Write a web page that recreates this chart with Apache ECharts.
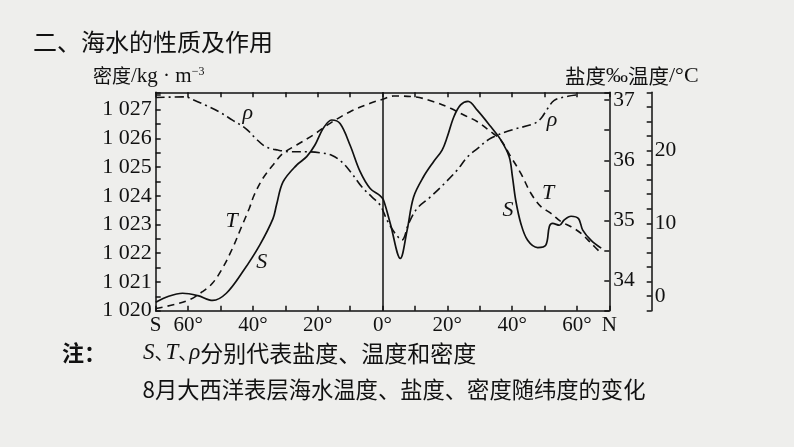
<!DOCTYPE html>
<html><head><meta charset="utf-8">
<script src="https://cdn.jsdelivr.net/npm/echarts@6/dist/echarts.min.js"></script>
<style>html,body{margin:0;padding:0;background:#eeeeec;}#c{width:794px;height:447px;}</style>
</head><body><div id="c"></div>
<script>
// Salinity S (‰)
const sLat = [-70,-66,-61.7,-57,-52.4,-48.2,-43.1,-37.9,-33.8,-32.7,-30.7,-26.5,-23.4,-20.9,-18.3,-15.7,-13.1,-10,-6.9,-3.8,-0.7,0.3,2.4,5.5,7.6,9.6,12.7,15.8,18.4,20,22,24.1,26.4,29.3,33.4,36.5,39.1,40.1,41.1,42.7,44.8,47.9,50.4,51.5,52.5,54.6,56.1,58.2,60.5,61.8,64.4,67.5];
const sVal = [33.64,33.74,33.79,33.75,33.67,33.79,34.15,34.59,35.03,35.26,35.64,35.92,36.06,36.25,36.53,36.67,36.61,36.25,35.81,35.53,35.41,35.34,34.95,34.37,34.84,35.39,35.73,35.98,36.17,36.39,36.72,36.92,36.98,36.83,36.56,36.34,36.06,35.73,35.34,34.95,34.67,34.55,34.59,34.9,34.95,34.92,35.01,35.07,35.03,34.84,34.67,34.54];
// Temperature T (°C)
const tLat = [-70,-64.9,-59.7,-55.6,-52.5,-49.4,-46.3,-43.7,-41.1,-39.6,-36.9,-33.8,-30.7,-26.5,-21.4,-16.2,-10,-3.8,0.3,3.4,9.6,15.8,21,25.1,29.3,33.4,36.5,39.6,42.7,45.8,48.9,52,55.1,58.2,61.3,64.4,67.5];
const tVal = [-1.7,-1.22,-0.53,0.61,1.76,3.82,6.57,9.32,12.07,13.89,16.19,18.01,19.62,20.76,22.13,23.74,25.34,26.49,27.08,27.49,27.4,26.71,25.8,24.88,23.96,22.59,21.45,19.15,16.87,14.13,12.29,11.38,10.23,9.54,8.63,7.26,5.88];
// Density rho (kg/m3)
const rLat = [-70,-60.8,-58.7,-54.6,-50.4,-46.3,-42.2,-39.1,-36,-32.3,-28.1,-23,-18.8,-15.7,-12.6,-9.5,-6.4,-3.3,-0.7,1.4,3.9,6,8.1,10.7,14.8,18.9,23.1,26.2,29.3,33.4,39.6,46.8,48.9,51,53,57.2,60.3];
const rVal = [1027.42,1027.44,1027.35,1027.15,1026.92,1026.63,1026.34,1025.99,1025.70,1025.59,1025.53,1025.53,1025.49,1025.41,1025.18,1024.78,1024.31,1023.96,1023.67,1023.15,1022.69,1022.46,1023.04,1023.56,1023.96,1024.4,1024.9,1025.35,1025.64,1026.0,1026.28,1026.51,1026.69,1027.04,1027.32,1027.46,1027.51];

// Tick labels
const xLabelValues = [-70,-60,-40,-20,0,20,40,60,70];
const xLabelTexts = ['S','60°','40°','20°','0°','20°','40°','60°','N'];
const densityLabels = [1020,1021,1022,1023,1024,1025,1026,1027];
const salinityLabels = [34,35,36,37];
const tempLabels = [0,10,20];

// Curve annotations [lat, value]
const annoRho = [[-41.6,1026.87],[52.3,1026.63]];
const annoT = [[-46.6,10.3],[51.1,14.2]];
const annoS = [[-37.3,34.31],[38.7,35.17]];

const serif = '"Liberation Serif","Times New Roman",serif';
const cjk = '"Noto Sans CJK SC","Noto Sans",sans-serif';
const ink = '#111';
const zip = (a,b) => a.map((x,i)=>[x,b[i]]);
const near = (v,list) => list.find(l => Math.abs(l - v) < 1e-6);
const axLine = {show:true, onZero:false, lineStyle:{color:ink, width:1.5}};
const tick = {show:true, inside:true, length:5, lineStyle:{color:ink, width:1.5}};
const lab = (fs) => ({color:ink, fontFamily:serif, fontSize:fs});

function anno(list, txt){
  return {symbol:'circle', symbolSize:1, silent:true, itemStyle:{color:'rgba(0,0,0,0)'},
    label:{show:true, position:'inside', formatter:txt, color:ink, fontFamily:serif, fontStyle:'italic', fontSize:22},
    data:list.map(c=>({coord:c}))};
}

const chart = echarts.init(document.getElementById('c'), null, {renderer:'canvas'});
chart.setOption({
  backgroundColor:'#eeeeec',
  animation:false,
  grid:{left:155.7, right:184.7, top:92.3, bottom:136.3, containLabel:false},
  xAxis:[
    {type:'value', min:-70, max:70, interval:10, position:'bottom', axisLine:axLine, axisTick:tick, splitLine:{show:false},
     axisLabel:Object.assign({margin:4, showMinLabel:true, showMaxLabel:true, formatter:v=>{const i=xLabelValues.findIndex(l=>Math.abs(l-v)<1e-6);return i>=0?xLabelTexts[i]:'';}}, lab(21))},
    {type:'value', min:-70, max:70, interval:10, position:'top', axisLine:axLine, axisTick:tick, splitLine:{show:false}, axisLabel:{show:false}}
  ],
  yAxis:[
    {type:'value', min:1020, max:1027.6, interval:0.5, position:'left', axisLine:axLine, axisTick:tick, splitLine:{show:false},
     axisLabel:Object.assign({margin:4, formatter:v=>{const l=near(v,densityLabels);return l!==undefined?String(l).replace(/^(\d)(\d{3})$/,'$1 $2'):'';}}, lab(22))},
    {type:'value', min:33.5, max:37.13, interval:0.5, position:'right', axisLine:axLine, axisTick:tick, splitLine:{show:false},
     axisLabel:Object.assign({margin:4, formatter:v=>{const l=near(v,salinityLabels);return l!==undefined?String(l):'';}}, lab(21.5))},
    {type:'value', min:-2, max:28, interval:2, position:'right', offset:42.4, axisLine:axLine, axisTick:tick, splitLine:{show:false},
     axisLabel:Object.assign({margin:3, formatter:v=>{const l=near(v,tempLabels);return l!==undefined?String(l):'';}}, lab(21.5))}
  ],
  series:[
    {name:'S', type:'line', xAxisIndex:0, yAxisIndex:1, data:zip(sLat,sVal), smooth:0.35, showSymbol:false, silent:true,
     lineStyle:{color:ink, width:1.7, type:'solid'},
     markLine:{silent:true, symbol:'none', label:{show:false}, lineStyle:{color:ink, width:1.5, type:'solid'}, data:[{xAxis:0}]},
     markPoint:anno(annoS,'S')},
    {name:'T', type:'line', xAxisIndex:0, yAxisIndex:2, data:zip(tLat,tVal), smooth:0.35, showSymbol:false, silent:true,
     lineStyle:{color:ink, width:1.6, type:[7,5]}, markPoint:anno(annoT,'T')},
    {name:'ρ', type:'line', xAxisIndex:0, yAxisIndex:0, data:zip(rLat,rVal), smooth:0.35, showSymbol:false, silent:true,
     lineStyle:{color:ink, width:1.6, type:[9,4,2,4]}, markPoint:anno(annoRho,'ρ')}
  ],
  graphic:[
    {type:'text', x:33, y:42, silent:true, style:{text:'二、海水的性质及作用', font:'24px '+cjk, fill:ink, align:'left', verticalAlign:'middle', textAlign:'left', textVerticalAlign:'middle'}},
    {type:'text', x:93, y:76, silent:true, style:{text:'{c|密度}{r|/kg · m}{s|−3}', fill:ink, align:'left', verticalAlign:'middle', textAlign:'left', textVerticalAlign:'middle',
      rich:{c:{fontFamily:cjk, fontSize:19, fill:ink}, r:{fontFamily:serif, fontSize:21, fill:ink}, s:{fontFamily:serif, fontSize:12, fill:ink, verticalAlign:'top'}}}},
    {type:'text', x:565, y:76, silent:true, style:{text:'{c|盐度}{r|‰}{c|温度}{r|/°C}', fill:ink, align:'left', verticalAlign:'middle', textAlign:'left', textVerticalAlign:'middle',
      rich:{c:{fontFamily:cjk, fontSize:20.5, fill:ink}, r:{fontFamily:serif, fontSize:22, fill:ink}}}},
    {type:'text', x:62, y:353, silent:true, style:{text:'{b|注：}{i|S}{p|、}{i|T}{p|、}{i|ρ}{n|分别代表盐度、温度和密度}', fill:ink, align:'left', verticalAlign:'middle', textAlign:'left', textVerticalAlign:'middle',
      rich:{b:{fontFamily:cjk, fontSize:22, fontWeight:'bold', fill:ink, width:81},
            i:{fontFamily:serif, fontSize:23, fontStyle:'italic', fill:ink},
            p:{fontFamily:cjk, fontSize:19, fill:ink, width:11},
            n:{fontFamily:cjk, fontSize:23, fill:ink}}}},
    {type:'text', x:394, y:390, silent:true, style:{text:'8月大西洋表层海水温度、盐度、密度随纬度的变化', font:'22.3px '+cjk, fill:ink, align:'center', verticalAlign:'middle', textAlign:'center', textVerticalAlign:'middle'}}
  ]
});
</script></body></html>
